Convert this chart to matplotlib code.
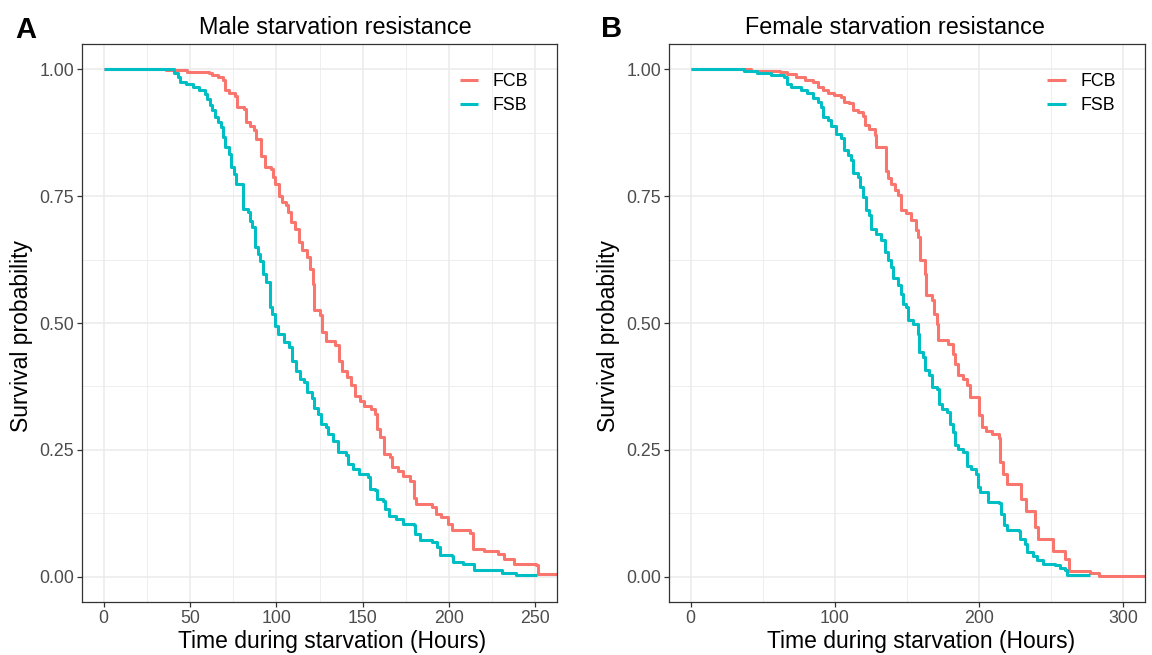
import matplotlib
matplotlib.use("Agg")
import matplotlib.pyplot as plt
from matplotlib.ticker import MultipleLocator

plt.rcParams['font.family'] = ['Liberation Sans', 'DejaVu Sans']

# survival curves (time in hours, survival probability)
male_fcb_time = [0, 36, 48, 61, 63, 66, 69, 70, 72.5, 76, 77.5, 81, 82.5, 85, 87, 88.5, 91, 93.5, 97, 98,
                 99.5, 101.5, 103.5, 105.5, 107, 108.5, 111, 113, 115, 117.5, 119.5, 121, 122, 125, 126.5, 129,
                 134, 136, 138, 141, 143, 145.5, 148.5, 150.5, 155, 157, 158, 160, 162.5, 166, 167, 170.5,
                 173.5, 177.5, 179.5, 181, 190, 192.5, 195.5, 199.5, 201.5, 212, 214, 220.5, 228.5, 232,
                 237.5, 250.5, 251.5, 270]
male_fcb_surv = [1.0, 0.998, 0.995, 0.993, 0.988, 0.984, 0.980, 0.959, 0.953, 0.947, 0.926, 0.922, 0.896,
                 0.888, 0.880, 0.862, 0.830, 0.807, 0.804, 0.788, 0.775, 0.751, 0.738, 0.732, 0.719, 0.699,
                 0.686, 0.659, 0.643, 0.630, 0.607, 0.577, 0.525, 0.515, 0.482, 0.465, 0.456, 0.426, 0.406,
                 0.393, 0.377, 0.357, 0.347, 0.337, 0.331, 0.321, 0.291, 0.275, 0.242, 0.235, 0.216, 0.209,
                 0.199, 0.189, 0.156, 0.143, 0.138, 0.124, 0.117, 0.104, 0.091, 0.087, 0.055, 0.051, 0.045,
                 0.035, 0.025, 0.022, 0.005, 0.005]

male_fsb_time = [0, 41, 43, 44, 47.5, 51.5, 55.5, 58.5, 60, 61.5, 63, 64.5, 66, 68, 69, 70, 72.5, 74, 75.5,
                 76.5, 80.5, 83.5, 84.5, 86, 87.5, 89.5, 90.5, 92, 94, 96.5, 97.5, 99, 101, 104.5, 107.5, 109,
                 111.5, 113.5, 116, 118, 120.5, 122, 124, 126, 128.5, 130, 133, 135.5, 140.5, 141.5, 144.5,
                 148, 153, 154, 157, 158, 162, 163, 165.5, 169.5, 173.5, 179.5, 180.5, 183, 190, 193, 195,
                 201.5, 202.5, 208, 214.5, 230.5, 238.5, 251]
male_fsb_surv = [1.0, 0.993, 0.985, 0.975, 0.971, 0.965, 0.960, 0.952, 0.942, 0.929, 0.919, 0.906, 0.896,
                 0.886, 0.867, 0.847, 0.834, 0.807, 0.794, 0.775, 0.725, 0.719, 0.702, 0.689, 0.649, 0.637,
                 0.623, 0.597, 0.580, 0.531, 0.518, 0.495, 0.479, 0.462, 0.452, 0.426, 0.406, 0.390, 0.383,
                 0.364, 0.353, 0.333, 0.320, 0.301, 0.294, 0.281, 0.268, 0.245, 0.239, 0.222, 0.212, 0.203,
                 0.196, 0.173, 0.170, 0.153, 0.150, 0.134, 0.120, 0.114, 0.104, 0.101, 0.084, 0.072, 0.068,
                 0.058, 0.043, 0.041, 0.028, 0.025, 0.013, 0.008, 0.004, 0.004]

female_fcb_time = [0, 42, 62, 67, 73, 79, 85, 88, 91.5, 95, 99.5, 104, 106.5, 110, 112.5, 116, 119.5, 121,
                   124, 127.5, 128.5, 135.5, 137, 139, 141.5, 144, 146, 149.5, 153, 156, 157.5, 159, 162.5,
                   163.5, 167, 168.5, 170.5, 171.5, 178.5, 182, 183, 185.5, 189, 191.5, 193.5, 200, 202, 205,
                   209, 213.5, 214.5, 216.5, 219, 229, 232.5, 238.5, 241, 251.5, 259.5, 262.5, 277, 283, 320]
female_fcb_surv = [1.0, 0.997, 0.994, 0.990, 0.985, 0.980, 0.976, 0.966, 0.959, 0.954, 0.949, 0.945, 0.936,
                   0.933, 0.920, 0.916, 0.908, 0.890, 0.882, 0.870, 0.847, 0.80, 0.785, 0.775, 0.762, 0.752,
                   0.722, 0.716, 0.703, 0.683, 0.670, 0.624, 0.597, 0.555, 0.545, 0.518, 0.499, 0.467, 0.459,
                   0.439, 0.420, 0.397, 0.390, 0.377, 0.354, 0.318, 0.295, 0.288, 0.282, 0.274, 0.226, 0.203,
                   0.183, 0.153, 0.130, 0.097, 0.074, 0.051, 0.035, 0.012, 0.008, 0.002, 0.002]

female_fsb_time = [0, 37, 46, 55.5, 65, 67, 69.5, 76.5, 81, 84.5, 88, 90.5, 91.5, 95, 97.5, 101, 104.5, 106,
                   109, 111, 112.5, 116, 117.5, 119.5, 121.5, 124, 125, 128.5, 132, 134.5, 137, 139, 140.5,
                   143.5, 145.5, 147, 149.5, 150.5, 154, 157.5, 158, 161, 162.5, 165.5, 167, 171, 172, 174,
                   177.5, 179.5, 182, 183, 185.5, 189, 191.5, 194.5, 197.5, 199, 200.5, 206, 213.5, 215, 217,
                   219, 227.5, 228.5, 232, 233, 237.5, 240, 244.5, 252.5, 256, 259.5, 261, 277]
female_fsb_surv = [1.0, 0.997, 0.992, 0.989, 0.985, 0.972, 0.966, 0.960, 0.954, 0.943, 0.936, 0.926, 0.906,
                   0.900, 0.888, 0.872, 0.864, 0.841, 0.831, 0.821, 0.795, 0.788, 0.768, 0.749, 0.722, 0.712,
                   0.686, 0.676, 0.663, 0.640, 0.624, 0.610, 0.588, 0.574, 0.558, 0.538, 0.532, 0.505, 0.499,
                   0.479, 0.443, 0.433, 0.407, 0.397, 0.374, 0.370, 0.341, 0.331, 0.324, 0.301, 0.285, 0.259,
                   0.252, 0.245, 0.219, 0.213, 0.203, 0.176, 0.166, 0.147, 0.145, 0.124, 0.101, 0.091, 0.089,
                   0.074, 0.065, 0.048, 0.041, 0.032, 0.025, 0.022, 0.018, 0.013, 0.004, 0.004]

groups = ['FCB', 'FSB']
colors = {'FCB': '#F8766D', 'FSB': '#00BFC4'}
y_ticks = [0, 0.25, 0.5, 0.75, 1.0]
y_tick_labels = ['0.00', '0.25', '0.50', '0.75', '1.00']

W, H = 1152, 655
fig = plt.figure(figsize=(W / 100, H / 100), dpi=100)


def px_box(x0, y0, x1, y1):
    return [x0 / W, 1 - y1 / H, (x1 - x0) / W, (y1 - y0) / H]


def draw_panel(ax, curves, xmax, xmajor, xminor):
    for g, (t, s) in zip(groups, curves):
        ax.step(t, s, where='post', color=colors[g], lw=2.2, label=g, solid_capstyle='butt')
    ax.set_xlim(-0.05 * xmax, 1.05 * xmax)
    ax.set_ylim(-0.05, 1.05)
    ax.xaxis.set_major_locator(MultipleLocator(xmajor))
    ax.xaxis.set_minor_locator(MultipleLocator(xminor))
    ax.set_yticks(y_ticks)
    ax.set_yticklabels(y_tick_labels)
    ax.yaxis.set_minor_locator(MultipleLocator(0.125))
    ax.grid(which='major', color='#EBEBEB', lw=1.1)
    ax.grid(which='minor', color='#EBEBEB', lw=0.6)
    ax.set_axisbelow(True)
    for sp in ax.spines.values():
        sp.set_color('#333333')
        sp.set_linewidth(0.9)
    ax.tick_params(which='major', length=3.5, width=0.9, color='#333333',
                   labelsize=12.8, labelcolor='#4D4D4D', pad=2)
    ax.tick_params(which='minor', length=0)
    ax.legend(loc='upper left', bbox_to_anchor=(0.795, 0.948), frameon=False, fontsize=12.8,
              handlelength=1.05, handletextpad=0.8, labelspacing=0.42, borderpad=0, borderaxespad=0)


ax1 = fig.add_axes(px_box(82, 44, 557, 602))
draw_panel(ax1, [(male_fcb_time, male_fcb_surv), (male_fsb_time, male_fsb_surv)], 250, 50, 25)

ax2 = fig.add_axes(px_box(669, 44, 1145, 602))
draw_panel(ax2, [(female_fcb_time, female_fcb_surv), (female_fsb_time, female_fsb_surv)], 300, 100, 50)

# titles, axis labels and panel letters
fig.text(335 / W, 1 - 27 / H, 'Male starvation resistance', ha='center', va='center', fontsize=16.8)
fig.text(895 / W, 1 - 27 / H, 'Female starvation resistance', ha='center', va='center', fontsize=16.8)
for xc in (332, 921):
    fig.text(xc / W, 1 - 648 / H, 'Time during starvation (Hours)', ha='center', va='baseline', fontsize=16.5)
for xc in (22, 608):
    fig.text(xc / W, 1 - 336 / H, 'Survival probability', ha='center', va='center',
             rotation=90, fontsize=16.5)
fig.text(15 / W, 1 - 38 / H, 'A', fontsize=21, fontweight='bold', va='baseline')
fig.text(601 / W, 1 - 37 / H, 'B', fontsize=21, fontweight='bold', va='baseline')

fig.savefig('out.png', dpi=100)
